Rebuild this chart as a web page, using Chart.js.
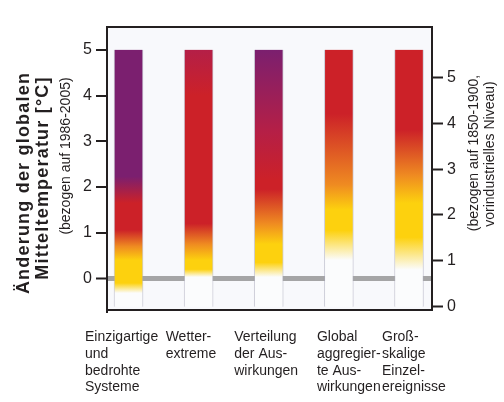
<!DOCTYPE html>
<html>
<head>
<meta charset="utf-8">
<script src="https://cdn.jsdelivr.net/npm/chart.js@4"></script>
<style>
  html, body { margin: 0; padding: 0; background: #fff; }
  #wrap { width: 504px; height: 402px; }
</style>
</head>
<body>
<div id="wrap"><canvas id="embers"></canvas></div>
<script>
const categories = [
  ['Einzigartige', 'und', 'bedrohte', 'Systeme'],
  ['Wetter-', 'extreme'],
  ['Verteilung', 'der Aus-', 'wirkungen'],
  ['Global', 'aggregier-', 'te Aus-', 'wirkungen'],
  ['Groß-', 'skalige', 'Einzel-', 'ereignisse']
];
const barBottom = [-0.62, -0.62, -0.62, -0.62, -0.62];
const barTop = [5, 5, 5, 5, 5];
// colour stops of each ember: [°C relative to 1986-2005, risk level]
const emberStops = [
  [[-0.32, 'W'], [-0.1, 'Y'], [0.4, 'Y'], [0.7, 'O'], [1.06, 'R'], [1.65, 'R'], [2.23, 'P']],
  [[0.03, 'W'], [0.2, 'Y'], [0.4, 'Y'], [0.75, 'O'], [1.2, 'R'], [4.0, 'R'], [5, 'C']],
  [[0.03, 'W'], [0.35, 'Y'], [0.75, 'Y'], [1.2, 'O'], [1.95, 'R'], [2.15, 'R'], [3.25, 'C'], [5, 'P']],
  [[0.4, 'W'], [1.05, 'Y'], [1.5, 'Y'], [2.05, 'O'], [3.6, 'R']],
  [[0.19, 'W'], [0.9, 'Y'], [1.65, 'Y'], [2.25, 'O'], [3.25, 'R']]
];
const leftTicks = [0, 1, 2, 3, 4, 5];
const rightTicks = [0, 1, 2, 3, 4, 5];
const preindustrialOffset = 0.61;
const leftMin = -0.69, leftMax = 5.5;

const riskColors = { W: '#fbfcfd', Y: '#fdd10e', O: '#ef8b21', R: '#cc2128', C: '#b41f47', P: '#7b1f6f' };
const font = '"Liberation Sans", Arial, Helvetica, sans-serif';
const ink = '#231f20';

function emberFill(ctx) {
  const chart = ctx.chart;
  const i = ctx.dataIndex;
  if (!chart.chartArea || i === undefined) return riskColors.R;
  const y = chart.scales.y;
  const g = chart.ctx.createLinearGradient(0, y.getPixelForValue(barBottom[i]), 0, y.getPixelForValue(barTop[i]));
  const stops = emberStops[i];
  g.addColorStop(0, riskColors[stops[0][1]]);
  stops.forEach(([t, k]) => {
    const off = (t - barBottom[i]) / (barTop[i] - barBottom[i]);
    g.addColorStop(Math.min(1, Math.max(0, off)), riskColors[k]);
  });
  g.addColorStop(1, riskColors[stops[stops.length - 1][1]]);
  return g;
}

const plotBackground = {
  id: 'plotBackground',
  beforeDraw(chart) {
    const {ctx, chartArea: a} = chart;
    ctx.save();
    ctx.fillStyle = '#fff';
    ctx.fillRect(0, 0, chart.width, chart.height);
    ctx.fillStyle = '#f8f9fc';
    ctx.fillRect(a.left, a.top, a.right - a.left, a.bottom - a.top);
    ctx.restore();
  }
};

// left edge of each label block relative to its ember
const labelShift = [-43.5, -33, -34.5, -22, -27];

function vText(ctx, text, x, y, f, spacing) {
  ctx.save();
  ctx.translate(x, y);
  ctx.rotate(-Math.PI / 2);
  ctx.font = f;
  ctx.letterSpacing = (spacing || 0) + 'px';
  ctx.textAlign = 'center';
  ctx.textBaseline = 'middle';
  ctx.fillText(text, 0, 0);
  ctx.restore();
}

const texts = {
  id: 'texts',
  afterDraw(chart) {
    const ctx = chart.ctx;
    const xs = chart.scales.x;
    ctx.save();
    ctx.fillStyle = ink;
    ctx.font = '14px ' + font;
    ctx.textAlign = 'left';
    ctx.textBaseline = 'alphabetic';
    categories.forEach((lines, i) => {
      const x0 = xs.getPixelForValue(i) + labelShift[i];
      lines.forEach((ln, k) => ctx.fillText(ln, x0, 341 + k * 16.8));
    });
    vText(ctx, 'Änderung der globalen', 24, 183, 'bold 18px ' + font, 1.2);
    vText(ctx, 'Mitteltemperatur [°C]', 43, 178, 'bold 18px ' + font, 1.2);
    vText(ctx, '(bezogen auf 1986-2005)', 66, 156, '14px ' + font);
    vText(ctx, '(bezogen auf 1850-1900,', 474, 153, '14px ' + font);
    vText(ctx, 'vorindustrielles Niveau)', 490, 154, '14px ' + font);
    ctx.restore();
  }
};

const axisBorder = { color: ink, width: 2 };

new Chart(document.getElementById('embers'), {
  type: 'bar',
  data: {
    datasets: [{
      data: categories.map((c, i) => ({ x: i, y: [barBottom[i], barTop[i]] })),
      backgroundColor: emberFill,
      borderColor: 'rgba(170,170,185,0.55)',
      borderWidth: { left: 1, right: 1, top: 0, bottom: 0 },
      borderSkipped: false,
      barThickness: 29
    }]
  },
  options: {
    responsive: true,
    maintainAspectRatio: false,
    animation: false,
    layout: { padding: { top: 27, left: 0, right: 0, bottom: 0 } },
    plugins: { legend: { display: false }, tooltip: { enabled: false } },
    scales: {
      x: {
        type: 'linear', position: 'bottom', min: -0.307, max: 4.328, offset: false,
        ticks: { display: false }, grid: { display: false, offset: false }, border: axisBorder,
        afterFit: s => { s.height = 92; }
      },
      x2: {
        type: 'linear', position: 'top', min: -0.307, max: 4.328, offset: false,
        ticks: { display: false }, grid: { display: false, offset: false }, border: axisBorder,
        afterFit: s => { s.height = 0; }
      },
      y: {
        position: 'left', min: leftMin, max: leftMax, z: 1,
        afterBuildTicks: s => { s.ticks = leftTicks.map(v => ({ value: v })); },
        ticks: { color: ink, font: { family: font, size: 16 }, padding: 4 },
        grid: {
          color: c => (c.tick && c.tick.value === 0 ? 'rgba(150,150,150,0.85)' : 'rgba(0,0,0,0)'),
          lineWidth: c => (c.tick && c.tick.value === 0 ? 5 : 0),
          tickColor: ink, tickWidth: 2, tickLength: 11
        },
        border: axisBorder,
        afterFit: s => { s.width = 107; }
      },
      y2: {
        position: 'right', min: leftMin + preindustrialOffset, max: leftMax + preindustrialOffset,
        afterBuildTicks: s => { s.ticks = rightTicks.map(v => ({ value: v })); },
        ticks: { color: ink, font: { family: font, size: 16 }, padding: 4 },
        grid: { drawOnChartArea: false, tickColor: ink, tickWidth: 2, tickLength: 11 },
        border: axisBorder,
        afterFit: s => { s.width = 72; }
      }
    }
  },
  plugins: [plotBackground, texts]
});
</script>
</body>
</html>
